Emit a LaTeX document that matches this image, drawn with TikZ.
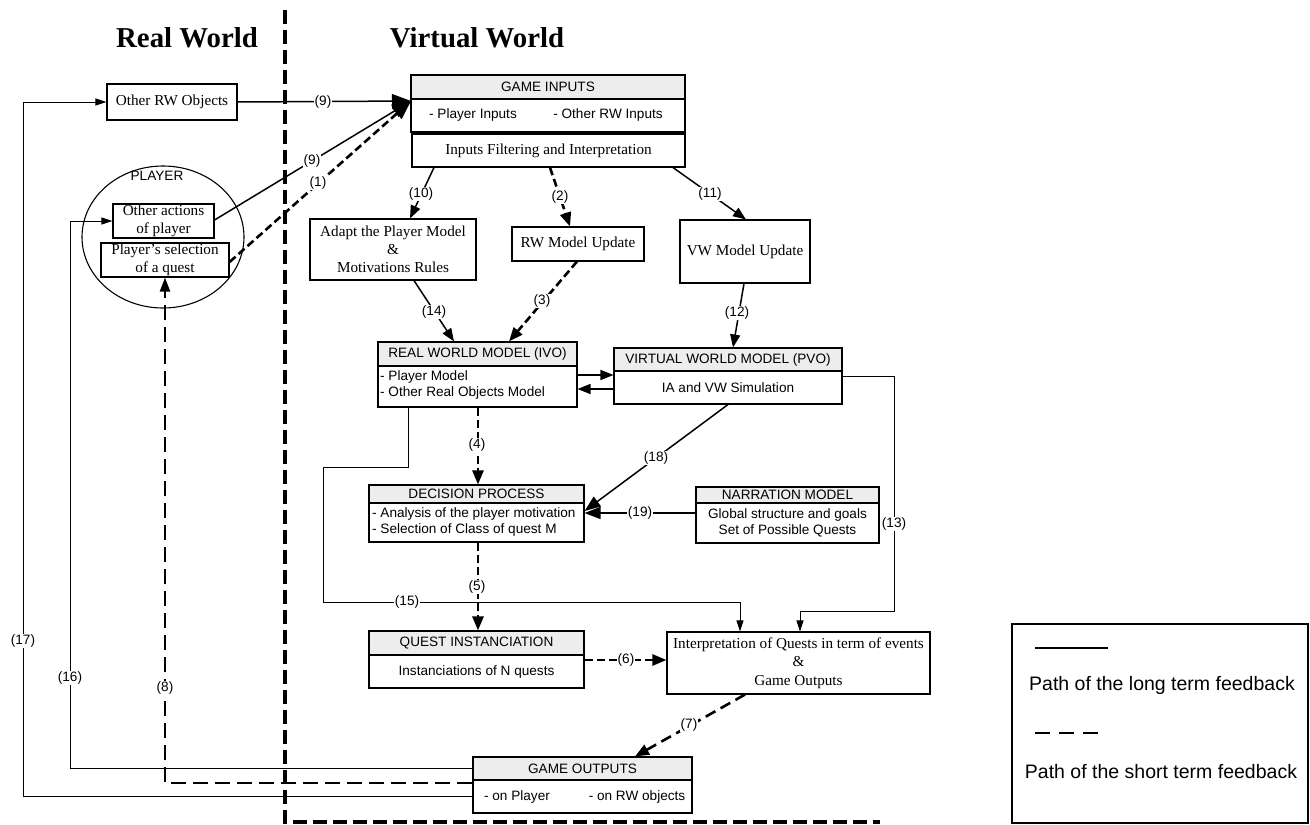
\documentclass[tikz,border=0pt]{standalone}
\usepackage{fontspec}
\setmainfont{Liberation Serif}
\setsansfont{Liberation Sans}
\usetikzlibrary{arrows.meta,shapes.geometric}
\begin{document}
\begin{tikzpicture}[x=1pt,y=-1pt,
 box/.style={draw,line width=1.1pt,inner sep=0pt,align=center},
 hdr/.style={box,fill=black!7,font=\sffamily\fontsize{13.6}{15}\selectfont},
 sfb/.style={box,font=\sffamily\fontsize{13.6}{16}\selectfont},
 sf/.style={font=\sffamily\fontsize{13.6}{16}\selectfont,inner sep=0pt},
 rmt/.style={font=\rmfamily\fontsize{15.2}{18}\selectfont},
 lbl/.style={font=\sffamily\fontsize{13.6}{15}\selectfont,fill=white,inner sep=0.6pt},
 conn/.style={line width=1.5pt,-{Triangle[length=13pt,width=10pt]}},
 bigconn/.style={line width=1.5pt,-{Triangle[length=19pt,width=14pt]}},
 sdash/.style={line width=2.6pt,dash pattern=on 8pt off 4pt,-{Triangle[length=14pt,width=11pt]}},
 thinarr/.style={line width=1pt,-{Triangle[length=11pt,width=7pt]}},
 ldash/.style={line width=2.2pt,dash pattern=on 15pt off 7pt},
 divider/.style={line width=3.4pt,dash pattern=on 14pt off 6pt},
 titlef/.style={font=\rmfamily\bfseries\fontsize{28.8}{32}\selectfont},
 legf/.style={font=\sffamily\fontsize{19.5}{22}\selectfont}]
\useasboundingbox (0,0) rectangle (1310,825);

% titles and divider
\node[titlef] (trw) at (187,38) {Real World};
\node[titlef] (tvw) at (477,38) {Virtual World};
\coordinate (d1) at (285,10);
\coordinate (d2) at (285,822);
\coordinate (d3) at (880,822);
\draw[divider] (d1) -- (d2) -- (d3);

% real world
\node[box,rmt,minimum width=130pt,minimum height=36pt] (orw) at (172,102) {Other RW Objects};
\node[ellipse,draw,line width=1.1pt,minimum width=162pt,minimum height=142pt] (player) at (163,237) {};
\node[sf] (playert) at (157,176) {PLAYER};
\node[box,font=\rmfamily\fontsize{15.2}{18}\selectfont,minimum width=101pt,minimum height=34pt] (oa) at (163.5,221) {Other actions\\of player};
\node[box,font=\rmfamily\fontsize{15.2}{17.5}\selectfont,minimum width=128pt,minimum height=34pt] (ps) at (165,260) {Player’s selection\\of a quest};

% game inputs
\node[hdr,minimum width=274pt,minimum height=24pt] (gih) at (548,87) {GAME INPUTS};
\node[box,minimum width=274pt,minimum height=33pt] (gib) at (548,115.5) {};
\node[sf] (git1) at (473,115) {- Player Inputs};
\node[sf] (git2) at (608,115) {- Other RW Inputs};
\node[box,rmt,minimum width=273pt,minimum height=33pt] (if) at (548.5,150.5) {Inputs Filtering and Interpretation};
\coordinate (gin) at (411,101);

% second row
\node[box,rmt,minimum width=166pt,minimum height=61pt] (adapt) at (393,249.5) {Adapt the Player Model\\\&\\Motivations Rules};
\node[box,rmt,minimum width=132pt,minimum height=34pt] (rwu) at (578,244) {RW Model Update};
\node[box,rmt,minimum width=130pt,minimum height=63pt] (vwu) at (745,251.5) {VW Model Update};

% models
\node[hdr,minimum width=199pt,minimum height=24pt] (rwmh) at (477.5,354) {REAL WORLD MODEL (IVO)};
\node[box,minimum width=199pt,minimum height=41pt] (rwmb) at (477.5,386.5) {};
\node[sf,align=left,anchor=west] (rwmt) at (380,385) {- Player Model\\- Other Real Objects Model};
\node[hdr,minimum width=228pt,minimum height=23pt] (vwmh) at (728,359.5) {VIRTUAL WORLD MODEL (PVO)};
\node[sfb,minimum width=228pt,minimum height=33pt] (vwmb) at (728,387.5) {IA and VW Simulation};

% decision + narration
\node[hdr,minimum width=215pt,minimum height=18pt] (dph) at (476.5,494) {DECISION PROCESS};
\node[box,minimum width=215pt,minimum height=39pt] (dpb) at (476.5,522.5) {};
\node[sf,align=left,anchor=west] (dpt) at (372,522) {- Analysis of the player motivation\\- Selection of Class of quest M};
\node[hdr,minimum width=183pt,minimum height=16pt] (nmh) at (787.5,495) {NARRATION MODEL};
\node[sfb,minimum width=183pt,minimum height=40pt] (nmb) at (787.5,523) {Global structure and goals\\Set of Possible Quests};

% quests, interpretation, outputs
\node[hdr,minimum width=215pt,minimum height=24pt] (qih) at (476.5,643) {QUEST INSTANCIATION};
\node[sfb,minimum width=215pt,minimum height=33pt] (qib) at (476.5,671.5) {Instanciations of N quests};
\node[box,font=\rmfamily\fontsize{15.2}{18.5}\selectfont,minimum width=263pt,minimum height=62pt] (interp) at (798.5,663) {Interpretation of Quests in term of events\\\&\\Game Outputs};
\node[hdr,minimum width=219pt,minimum height=23pt] (goh) at (582.5,768.5) {GAME OUTPUTS};
\node[box,minimum width=219pt,minimum height=33pt] (gob) at (582.5,796.5) {};
\node[sf] (got1) at (517,797) {- on Player};
\node[sf] (got2) at (637,797) {- on RW objects};

% legend
\node[draw,line width=1.2pt,minimum width=296pt,minimum height=199pt,inner sep=0pt] (legend) at (1160,723.5) {};
\coordinate (l1a) at (1035,648);
\coordinate (l1b) at (1108,648);
\coordinate (l2a) at (1035,733);
\coordinate (l2b) at (1099,733);
\draw[line width=1.8pt] (l1a) -- (l1b);
\draw[line width=2.6pt,dash pattern=on 15pt off 9pt] (l2a) -- (l2b);
\node[legf] (lt1) at (1162,685) {Path of the long term feedback};
\node[legf] (lt2) at (1161,772) {Path of the short term feedback};

% connectors: inputs
\draw[bigconn] (orw.east) -- (gin);
\draw[bigconn] (oa.east |- 0,220) -- (gin);
\draw[line width=2.6pt,dash pattern=on 8pt off 4pt,-{Triangle[length=19pt,width=14pt]}] (ps.east |- 0,262) -- (gin);
\draw[conn] (if.south -| 434,0) -- (adapt.north -| 410,0);
\draw[sdash] (if.south -| 550,0) -- (rwu.north -| 570,0);
\draw[conn] (if.south -| 673,0) -- (vwu.north -| 746,0);
\draw[conn] (adapt.south -| 414,0) -- (rwmh.north -| 454,0);
\draw[sdash] (rwu.south -| 577,0) -- (rwmh.north -| 509,0);
\draw[conn] (vwu.south -| 744,0) -- (vwmh.north -| 733,0);
\draw[conn] (rwmb.east |- 0,375) -- (vwmb.west |- 0,375);
\draw[conn] (vwmb.west |- 0,389) -- (rwmb.east |- 0,389);
\draw[sdash] (rwmb.south -| 478,0) -- (dph.north -| 478,0);
\draw[conn,-{Triangle[length=16pt,width=12pt]}] (vwmb.south -| 728,0) -- (dpb.east |- 0,511);
\draw[conn,-{Triangle[length=16pt,width=12pt]}] (nmb.west |- 0,513) -- (dpb.east |- 0,513);
\draw[sdash] (dpb.south -| 478,0) -- (qih.north -| 478,0);
\draw[thinarr] (rwmb.south -| 408,0) -- (408,467) -- (323,467) -- (323,602) -- (740,602) -- (interp.north -| 740,0);
\draw[thinarr] (vwmb.north east |- 0,376) -- (894,376) -- (894,611) -- (800,611) -- (interp.north -| 800,0);
\draw[sdash] (qib.east |- 0,660) -- (interp.west |- 0,660);
\draw[sdash,dash pattern=on 11pt off 6pt] (interp.south -| 745,0) -- (goh.north -| 635,0);
% feedback to real world
\draw[thinarr] (gob.west) -- (23,796.5) -- (23,102) -- (orw.west);
\draw[thinarr] (goh.west) -- (70,768.5) -- (70,221) -- (oa.west);
\draw[ldash,-{Triangle[length=14pt,width=10pt]}] (gob.north west |- 0,783) -- (165,783) -- (ps.south -| 165,0);

% labels
\node[lbl] (n9a) at (323,102) {(9)};
\node[lbl] (n9b) at (312,161) {(9)};
\node[lbl] (n1) at (318,183) {(1)};
\node[lbl] (n10) at (421,194) {(10)};
\node[lbl] (n2) at (560,197) {(2)};
\node[lbl] (n11) at (710,194) {(11)};
\node[lbl] (n14) at (434,312) {(14)};
\node[lbl] (n3) at (542,301) {(3)};
\node[lbl] (n12) at (737,313) {(12)};
\node[lbl] (n4) at (477,445) {(4)};
\node[lbl] (n18) at (656,458) {(18)};
\node[lbl] (n19) at (640,513) {(19)};
\node[lbl] (n13) at (894,524) {(13)};
\node[lbl] (n5) at (477,587) {(5)};
\node[lbl] (n15) at (407,602) {(15)};
\node[lbl] (n6) at (626,660) {(6)};
\node[lbl] (n7) at (689,725) {(7)};
\node[lbl] (n17) at (23,641) {(17)};
\node[lbl] (n16) at (70,678) {(16)};
\node[lbl] (n8) at (165,688) {(8)};
\end{tikzpicture}
\end{document}
